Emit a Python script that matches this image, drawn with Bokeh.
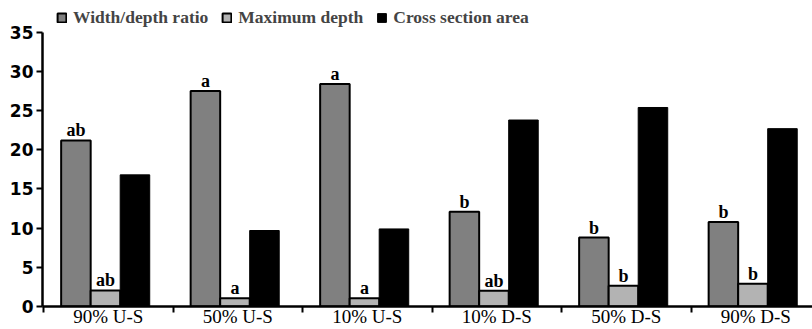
import numpy as np
from bokeh.plotting import figure
from bokeh.models import Range1d, FixedTicker, Legend, LegendItem, ColumnDataSource
from bokeh.core.properties import value
from bokeh.embed import file_html
from bokeh.resources import INLINE

categories = ["90% U-S", "50% U-S", "10% U-S", "10% D-S", "50% D-S", "90% D-S"]
width_depth = [21.2, 27.5, 28.4, 12.1, 8.8, 10.8]
max_depth = [2.05, 1.05, 1.05, 2.0, 2.65, 2.9]
cross_area = [16.8, 9.7, 9.9, 23.8, 25.4, 22.7]
wd_letters = ["ab", "a", "a", "b", "b", "b"]
md_letters = ["ab", "a", "a", "ab", "b", "b"]
series_names = ["Width/depth ratio", "Maximum depth", "Cross section area"]
y_ticks = [0, 5, 10, 15, 20, 25, 30, 35]

centers = np.arange(len(categories)) + 0.5
bw = 0.228
offs = [-0.25, -0.022, 0.206]

SERIF = "Liberation Serif"

p = figure(width=812, height=329, output_backend="svg", toolbar_location=None,
           x_range=Range1d(-0.008, 5.938), y_range=Range1d(0, 38.8),
           min_border_left=42, min_border_right=0, min_border_top=2, min_border_bottom=20)
p.outline_line_color = None
p.xgrid.visible = False
p.ygrid.visible = False
p.background_fill_color = "white"

src = ColumnDataSource(dict(
    x_wd=centers + offs[0], x_md=centers + offs[1], x_cs=centers + offs[2],
    wd=width_depth, md=max_depth, cs=cross_area,
    wd_l=wd_letters, md_l=md_letters))

r_wd = p.vbar(x="x_wd", top="wd", width=bw, bottom=0, source=src,
              fill_color="#808080", line_color="black", line_width=2)
r_md = p.vbar(x="x_md", top="md", width=bw, bottom=0, source=src,
              fill_color="#b3b3b3", line_color="black", line_width=2)
r_cs = p.vbar(x="x_cs", top="cs", width=bw, bottom=0, source=src,
              fill_color="black", line_color="black", line_width=1)

for xcol, ycol, lcol in [("x_wd", "wd", "wd_l"), ("x_md", "md", "md_l")]:
    p.text(x=xcol, y=ycol, text=lcol, source=src, text_align="center",
           text_baseline="middle", y_offset=-10,
           text_font=value(SERIF), text_font_style="bold", text_font_size="18px",
           text_color="black")

legend = Legend(items=[LegendItem(label=series_names[0], renderers=[r_wd]),
                       LegendItem(label=series_names[1], renderers=[r_md]),
                       LegendItem(label=series_names[2], renderers=[r_cs])],
                orientation="horizontal", location=(14, 278),
                glyph_width=11, glyph_height=11, label_standoff=6, spacing=13,
                padding=0, margin=0, border_line_color=None, background_fill_alpha=0,
                label_text_font=SERIF, label_text_font_style="bold",
                label_text_font_size="17.5px", label_height=18)
p.add_layout(legend, "center")

# y axis
yax = p.yaxis[0]
yax.ticker = FixedTicker(ticks=y_ticks)
yax.bounds = (0, 35)
yax.axis_line_width = 2.5
yax.major_tick_line_width = 2
yax.major_tick_out = 6
yax.major_tick_in = 0
yax.minor_tick_line_color = None
yax.major_label_standoff = 3
yax.major_label_text_font = "DejaVu Sans"
yax.major_label_text_font_style = "bold"
yax.major_label_text_font_size = "17px"
yax.major_label_text_color = "black"

# x axis
xax = p.xaxis[0]
xax.ticker = FixedTicker(ticks=list(centers), minor_ticks=list(range(len(categories) + 1)))
xax.major_label_overrides = {float(c): cat for c, cat in zip(centers, categories)}
xax.axis_line_width = 2.5
xax.major_tick_out = 0
xax.major_tick_in = 0
xax.major_tick_line_color = None
xax.minor_tick_out = 6
xax.minor_tick_in = 0
xax.minor_tick_line_width = 2
xax.major_label_standoff = -7
xax.major_label_text_font = SERIF
xax.major_label_text_font_size = "19px"
xax.major_label_text_color = "black"

open("out.html", "w").write(file_html(p, INLINE))
